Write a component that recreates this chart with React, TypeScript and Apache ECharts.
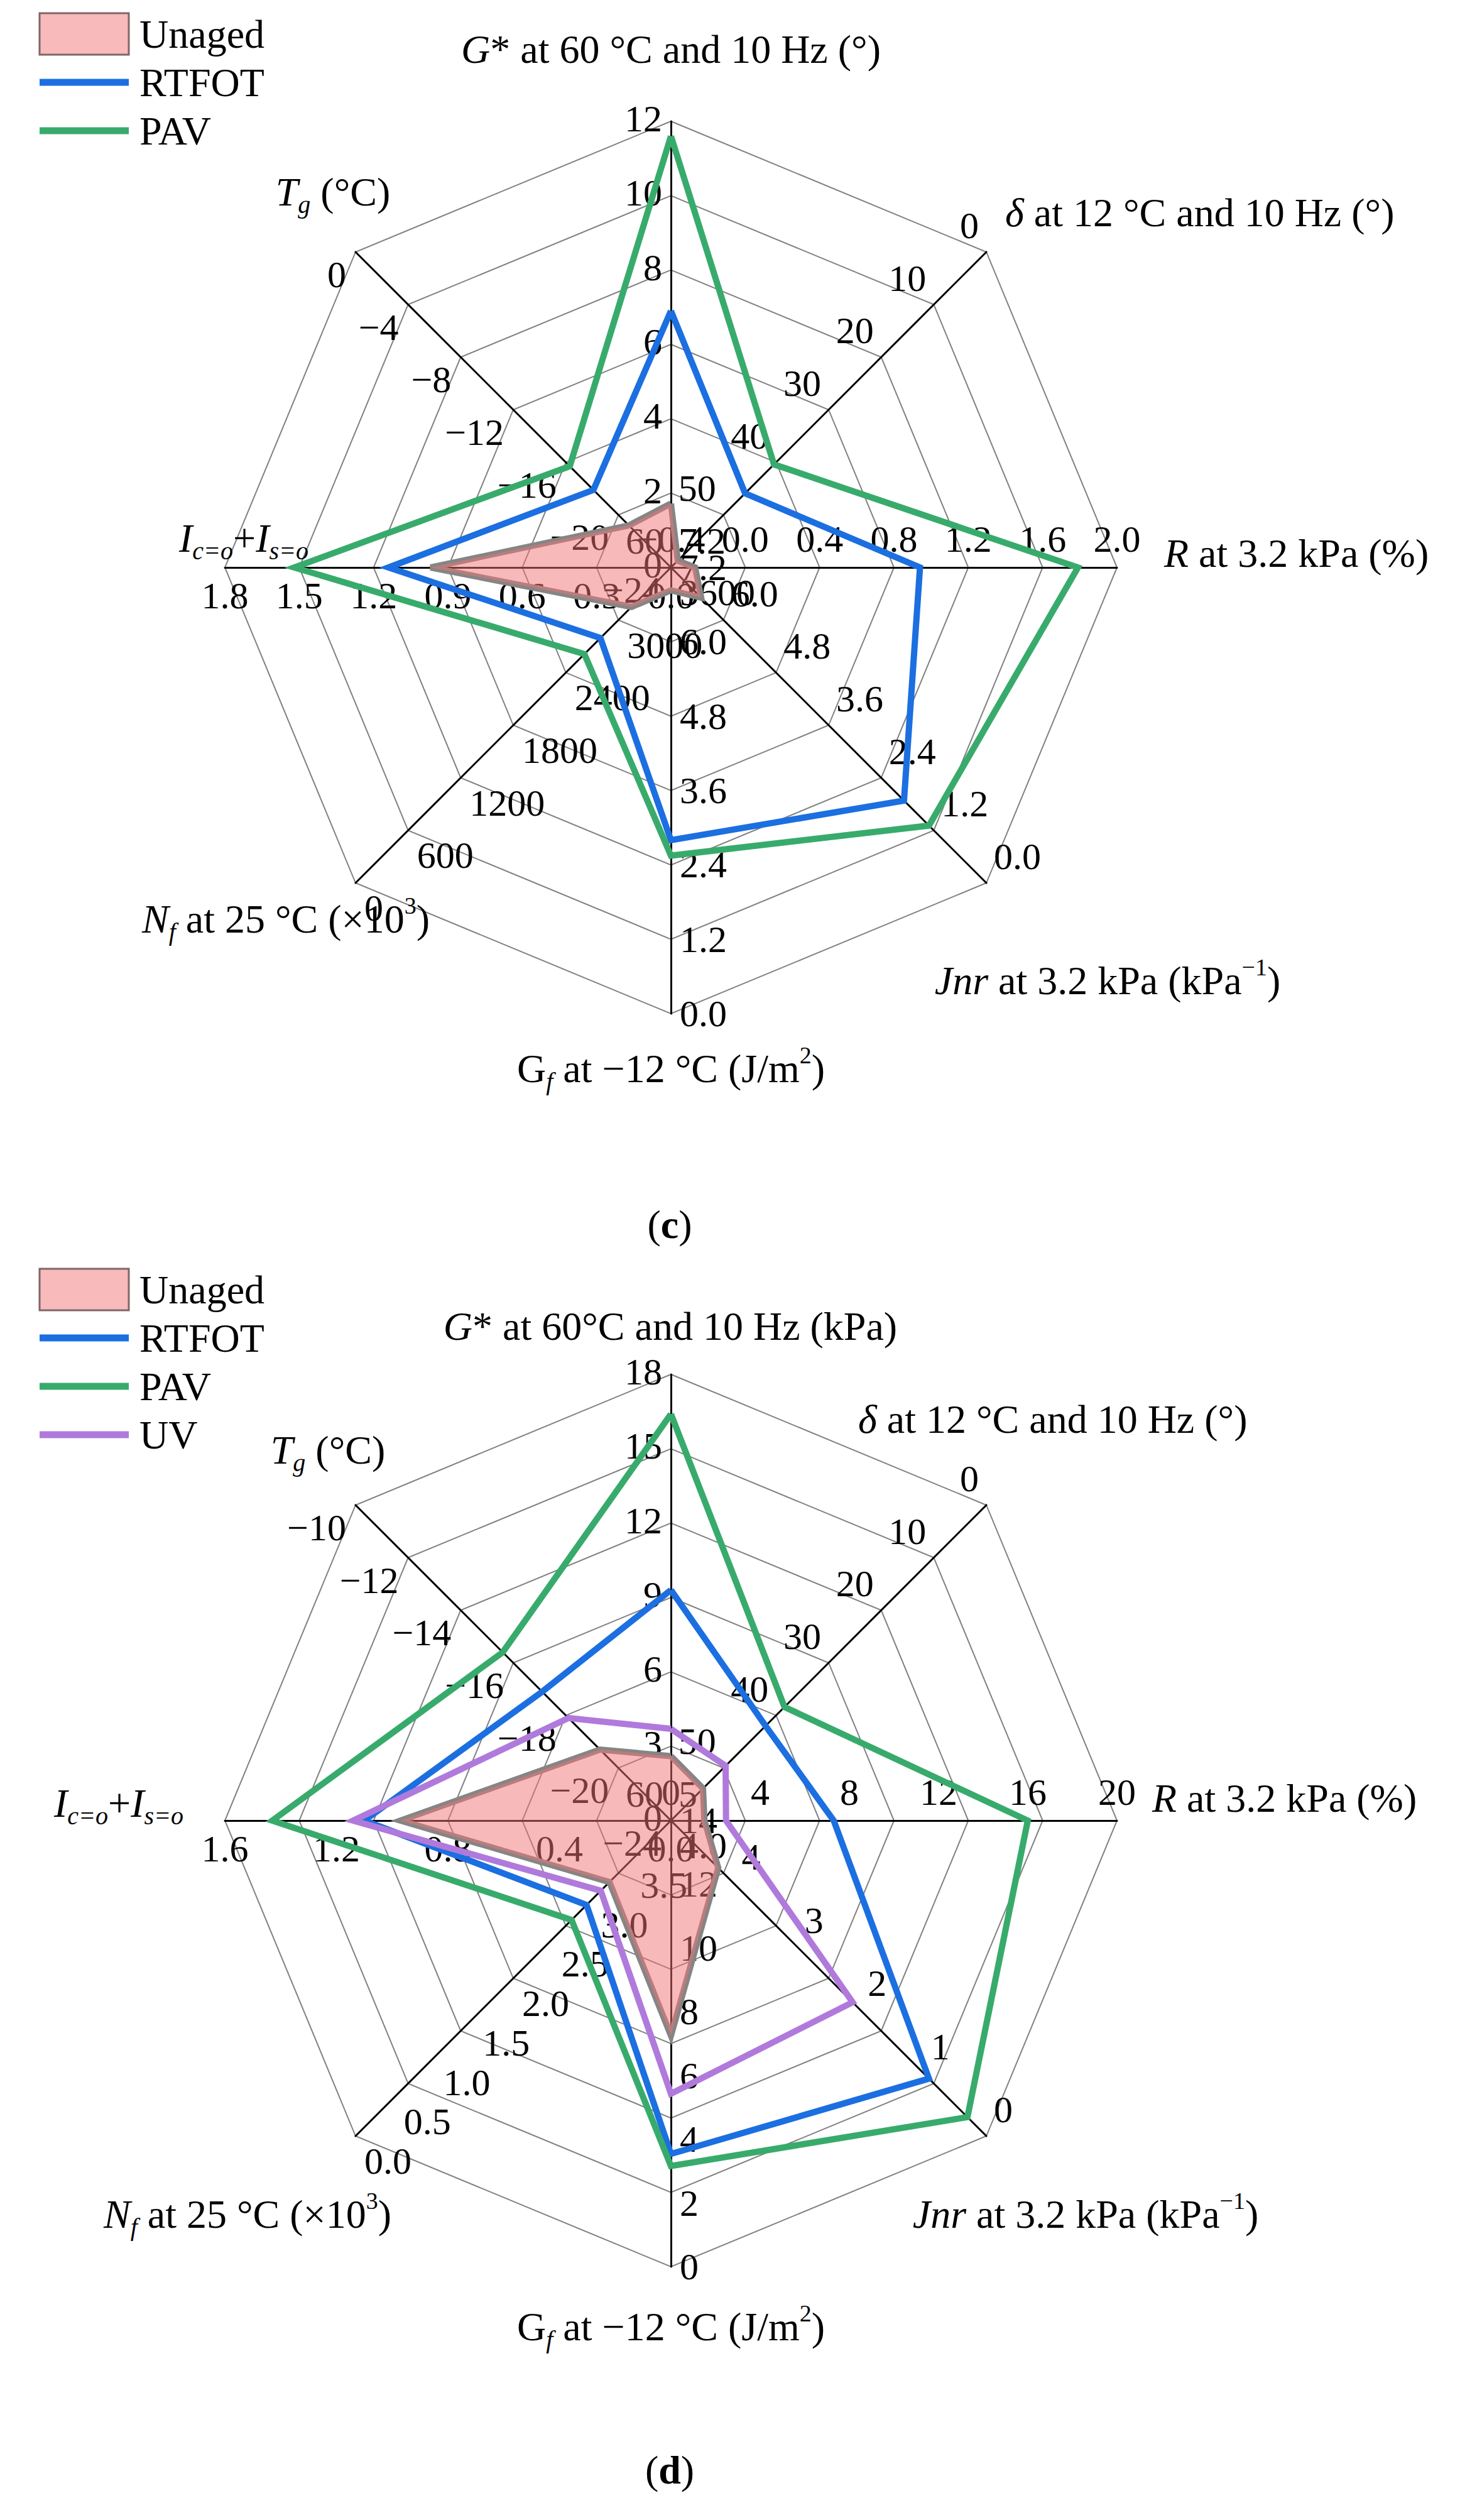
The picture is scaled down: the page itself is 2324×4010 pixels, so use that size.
import React, { useEffect, useRef } from 'react';
import * as echarts from 'echarts';

const FONT = '"Liberation Serif", "Times New Roman", Times, serif';

// Indicator order (counter-clockwise from top): G*, Tg, Ic+Is, Nf, Gf, Jnr, R, delta

// ---------- Chart (c) ----------
const C_LO = [0, -24, 0, 3600, 7.2, 7.2, -0.4, 60]; // axis value at the centre
const C_HI = [12, 0, 1.8, 0, 0, 0, 2.0, 0]; // axis value at the outer ring
const C_DEC = [0, 0, 1, 0, 1, 1, 1, 0];
const C_TICKS_GSTAR = [0, 2, 4, 6, 8, 10, 12];
const C_TICKS_TG = [-24, -20, -16, -12, -8, -4, 0];
const C_TICKS_I = [0, 0.3, 0.6, 0.9, 1.2, 1.5, 1.8];
const C_TICKS_NF = [3600, 3000, 2400, 1800, 1200, 600, 0];
const C_TICKS_GF = [7.2, 6.0, 4.8, 3.6, 2.4, 1.2, 0.0];
const C_TICKS_JNR = [7.2, 6.0, 4.8, 3.6, 2.4, 1.2, 0.0];
const C_TICKS_R = [-0.4, 0.0, 0.4, 0.8, 1.2, 1.6, 2.0];
const C_TICKS_DELTA = [60, 50, 40, 30, 20, 10, 0];
const C_UNAGED = [1.72, -20.8, 0.97, 3150, 6.83, 6.51, -0.27, 58.7];
const C_RTFOT = [6.9, -18.1, 1.14, 2795, 2.8, 1.88, 0.94, 45.9];
const C_PAV = [11.6, -16.3, 1.52, 2612, 2.55, 1.31, 1.79, 40.4];

// ---------- Chart (d) ----------
const D_LO = [0, -22, 0, 4, 14, 5, 0, 60];
const D_HI = [18, -10, 1.6, 0, 0, 0, 20, 0];
const D_DEC = [0, 0, 1, 1, 0, 0, 0, 0];
const D_TICKS_GSTAR = [0, 3, 6, 9, 12, 15, 18];
const D_TICKS_TG = [-22, -20, -18, -16, -14, -12, -10];
const D_TG_CENTER_TEXT = '\u221224';
const D_TICKS_I = [0, 0.4, 0.8, 1.2, 1.6];
const D_TICKS_NF = [4.0, 3.5, 3.0, 2.5, 2.0, 1.5, 1.0, 0.5, 0.0];
const D_TICKS_GF = [14, 12, 10, 8, 6, 4, 2, 0];
const D_TICKS_JNR = [5, 4, 3, 2, 1, 0];
const D_TICKS_R = [0, 4, 8, 12, 16, 20];
const D_TICKS_DELTA = [60, 50, 40, 30, 20, 10, 0];
const D_UNAGED = [2.6, -19.3, 0.97, 3.22, 7.25, 4.25, 1.5, 53.9];
const D_RTFOT = [9.3, -17.1, 1.1, 2.93, 3.54, 0.91, 7.3, 42.0];
const D_PAV = [16.4, -15.6, 1.43, 2.74, 3.16, 0.3, 16.0, 38.4];
const D_UV = [3.7, -18.1, 1.14, 3.11, 5.43, 2.12, 2.47, 49.6];

const C_NAMES = [
  '{i|G}{n|* at 60 \u00B0C and 10 Hz (\u00B0)}',
  '{i|T}{sub|g}{n| (\u00B0C)}',
  '{i|I}{sub|c=o}{n|+}{i|I}{sub|s=o}',
  '{i|N}{sub|f}{n| at 25 \u00B0C (\u00D710}{sup|3}{n|)}',
  '{n|G}{sub|f}{n| at \u221212 \u00B0C (J/m}{sup|2}{n|)}',
  '{i|Jnr}{n| at 3.2 kPa (kPa}{sup|\u22121}{n|)}',
  '{i|R}{n| at 3.2 kPa (%)}',
  '{i|\u03B4}{n| at 12 \u00B0C and 10 Hz (\u00B0)}',
];
const D_NAMES = [
  '{i|G}{n|* at 60\u00B0C and 10 Hz (kPa)}',
  ...C_NAMES.slice(1),
];

const COL_UNAGED_LINE = '#858585';
const COL_UNAGED_FILL = 'rgba(240,116,116,0.5)';
const COL_RTFOT = '#1b6fe0';
const COL_PAV = '#38ab6c';
const COL_UV = '#b07adc';

const CX = 1068;
const CY = [903, 2897];
const RADIUS = 710;
const RING = RADIUS / 6;

const TICK_FS = 60;
const NAME_FS = 64;

// name label layout: [x, y, align]
const C_NAME_POS: [number, number, string][] = [
  [1068, 78, 'center'],
  [530, 305, 'center'],
  [388, 856, 'center'],
  [455, 1462, 'center'],
  [1068, 1700, 'center'],
  [1763, 1560, 'center'],
  [1853, 880, 'left'],
  [1600, 338, 'left'],
];
const D_NAME_POS: [number, number, string][] = [
  [1067, 2110, 'center'],
  [522, 2307, 'center'],
  [189, 2869, 'center'],
  [394, 3523, 'center'],
  [1068, 3702, 'center'],
  [1728, 3523, 'center'],
  [1834, 2861, 'left'],
  [1366, 2258, 'left'],
];
// tick label offsets by axis direction: [dx, dy, align]
const TICK_OFF: [number, number, string][] = [
  [-14, -4, 'right'],
  [-15, 36, 'right'],
  [0, 45, 'center'],
  [14, 40, 'left'],
  [14, 0, 'left'],
  [12, -42, 'left'],
  [0, -45, 'center'],
  [-12, -42, 'right'],
];

const rich = {
  n: { fontFamily: FONT, fontSize: NAME_FS, lineHeight: 80, fill: '#000', color: '#000' },
  i: { fontFamily: FONT, fontSize: NAME_FS, fontStyle: 'italic', lineHeight: 80, fill: '#000', color: '#000' },
  b: { fontFamily: FONT, fontSize: NAME_FS, fontWeight: 'bold', lineHeight: 80, fill: '#000', color: '#000' },
  sub: { fontFamily: FONT, fontSize: 40, fontStyle: 'italic', lineHeight: 40, verticalAlign: 'bottom', fill: '#000', color: '#000' },
  sup: { fontFamily: FONT, fontSize: 38, lineHeight: 38, verticalAlign: 'top', fill: '#000', color: '#000' },
};

function fmt(v: number, dec: number) {
  const s = v.toFixed(dec);
  return s.replace('-', '\u2212');
}

function toRing(vals: number[], lo: number[], hi: number[]) {
  return vals.map((v, i) => ((v - lo[i]) / (hi[i] - lo[i])) * 6);
}

function pt(k: number, i: number, r: number) {
  const a = ((90 + 45 * i) * Math.PI) / 180;
  return [CX + r * RING * Math.cos(a), CY[k] - r * RING * Math.sin(a)];
}

function tickTexts(k: number, ticks: number[][], lo: number[], hi: number[], dec: number[], centerOverride?: Record<number, string>) {
  const els: any[] = [];
  ticks.forEach((list, i) => {
    list.forEach((v) => {
      const r = ((v - lo[i]) / (hi[i] - lo[i])) * 6;
      const [px, py] = pt(k, i, r);
      const [dx, dy, align] = TICK_OFF[i];
      let text = fmt(v, dec[i]);
      if (centerOverride && centerOverride[i] !== undefined && Math.abs(v - lo[i]) < 1e-9) text = centerOverride[i];
      els.push({
        type: 'text',
        x: px + dx,
        y: py + dy,
        z: 1,
        silent: true,
        style: { text, fontFamily: FONT, fontSize: TICK_FS, fill: '#000', align, verticalAlign: 'middle' },
      });
    });
  });
  return els;
}

function nameTexts(names: string[], pos: [number, number, string][]) {
  return names.map((t, i) => ({
    type: 'text',
    x: pos[i][0],
    y: pos[i][1],
    z: 1,
    silent: true,
    style: { text: t, rich, fontFamily: FONT, fontSize: NAME_FS, fill: '#000', align: pos[i][2], verticalAlign: 'middle' },
  }));
}

function legendEls(y0: number, items: { name: string; color: string; fill?: boolean }[]) {
  const els: any[] = [];
  items.forEach((it, j) => {
    const y = y0 + j * 77;
    if (it.fill) {
      els.push({ type: 'rect', shape: { x: 63, y: y - 33, width: 142, height: 66 }, style: { fill: '#f8baba', stroke: '#806666', lineWidth: 3 }, z: 10 });
    } else {
      els.push({ type: 'line', shape: { x1: 63, y1: y, x2: 205, y2: y }, style: { stroke: it.color, lineWidth: 11 }, z: 10 });
    }
    els.push({ type: 'text', x: 222, y, z: 10, style: { text: it.name, fontFamily: FONT, fontSize: NAME_FS, fill: '#000', align: 'left', verticalAlign: 'middle' } });
  });
  return els;
}

export default function App() {
  const ref = useRef<HTMLDivElement>(null);
  useEffect(() => {
    if (!ref.current) return;
    const chart = echarts.init(ref.current, null, { renderer: 'svg' });
    const radar = [0, 1].map((k) => ({
      center: [CX, CY[k]],
      radius: RADIUS,
      startAngle: 90,
      splitNumber: 6,
      shape: 'polygon',
      axisName: { show: false },
      indicator: Array.from({ length: 8 }, () => ({ min: 0, max: 6 })),
      axisLine: { show: true, lineStyle: { color: '#000', width: 3 } },
      splitLine: { show: true, lineStyle: { color: '#808080', width: 2 } },
      splitArea: { show: false },
      axisTick: { show: false },
      axisLabel: { show: false },
      silent: true,
    }));
    const mk = (radarIndex: number, name: string, vals: number[], lo: number[], hi: number[], color: string, fill?: string) => ({
      type: 'radar',
      radarIndex,
      name,
      symbol: 'none',
      silent: true,
      z: 2,
      data: [
        {
          name,
          value: toRing(vals, lo, hi),
          lineStyle: { color, width: 10, join: 'miter' },
          areaStyle: fill ? { color: fill, opacity: 1 } : undefined,
          itemStyle: { color },
        },
      ],
    });
    const C_TICKS = [C_TICKS_GSTAR, C_TICKS_TG, C_TICKS_I, C_TICKS_NF, C_TICKS_GF, C_TICKS_JNR, C_TICKS_R, C_TICKS_DELTA];
    const D_TICKS = [D_TICKS_GSTAR, D_TICKS_TG, D_TICKS_I, D_TICKS_NF, D_TICKS_GF, D_TICKS_JNR, D_TICKS_R, D_TICKS_DELTA];
    const graphics: any[] = [
      ...tickTexts(0, C_TICKS, C_LO, C_HI, C_DEC),
      ...tickTexts(1, D_TICKS, D_LO, D_HI, D_DEC, { 1: D_TG_CENTER_TEXT }),
      ...nameTexts(C_NAMES, C_NAME_POS),
      ...nameTexts(D_NAMES, D_NAME_POS),
      ...legendEls(54, [
        { name: 'Unaged', color: COL_UNAGED_LINE, fill: true },
        { name: 'RTFOT', color: COL_RTFOT },
        { name: 'PAV', color: COL_PAV },
      ]),
      ...legendEls(2052, [
        { name: 'Unaged', color: COL_UNAGED_LINE, fill: true },
        { name: 'RTFOT', color: COL_RTFOT },
        { name: 'PAV', color: COL_PAV },
        { name: 'UV', color: COL_UV },
      ]),
      { type: 'text', x: 1066, y: 1948, z: 1, style: { text: '{n|(}{b|c}{n|)}', rich, align: 'center', verticalAlign: 'middle', fontFamily: FONT, fontSize: NAME_FS } },
      { type: 'text', x: 1066, y: 3930, z: 1, style: { text: '{n|(}{b|d}{n|)}', rich, align: 'center', verticalAlign: 'middle', fontFamily: FONT, fontSize: NAME_FS } },
    ];
    chart.setOption({
      animation: false,
      backgroundColor: '#fff',
      radar,
      series: [
        mk(0, 'RTFOT', C_RTFOT, C_LO, C_HI, COL_RTFOT),
        mk(0, 'PAV', C_PAV, C_LO, C_HI, COL_PAV),
        mk(0, 'Unaged', C_UNAGED, C_LO, C_HI, COL_UNAGED_LINE, COL_UNAGED_FILL),
        mk(1, 'RTFOT', D_RTFOT, D_LO, D_HI, COL_RTFOT),
        mk(1, 'PAV', D_PAV, D_LO, D_HI, COL_PAV),
        mk(1, 'UV', D_UV, D_LO, D_HI, COL_UV),
        mk(1, 'Unaged', D_UNAGED, D_LO, D_HI, COL_UNAGED_LINE, COL_UNAGED_FILL),
      ],
      graphic: { elements: graphics },
    });
    return () => chart.dispose();
  }, []);
  return <div ref={ref} style={{ position: 'absolute', left: 0, top: 0, width: 2324, height: 4010 }} />;
}
